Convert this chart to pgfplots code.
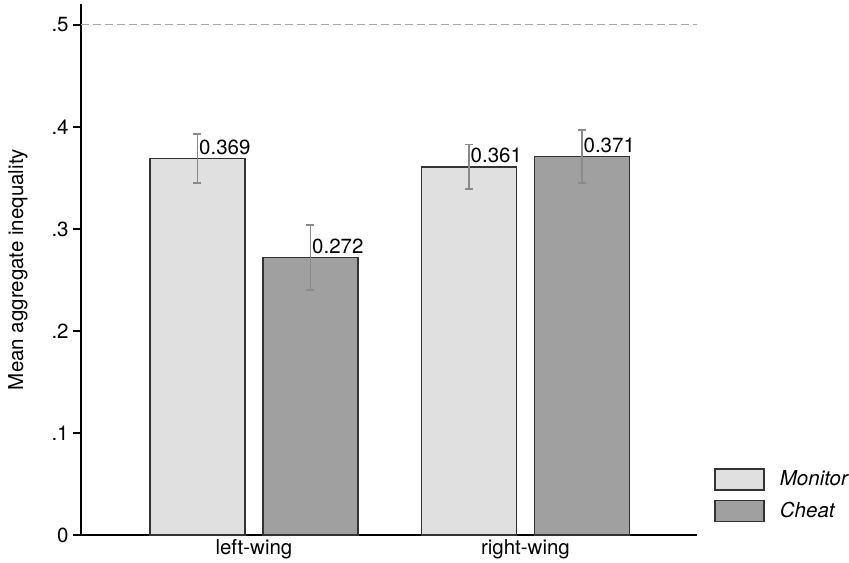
\documentclass[border=0pt]{standalone}
\usepackage{fontspec}
\setmainfont{TeX Gyre Heros}
\usepackage{pgfplots}
\pgfplotsset{compat=1.18}

\definecolor{monfill}{HTML}{E0E0E0}
\definecolor{chfill}{HTML}{A0A0A0}
\definecolor{barline}{HTML}{333333}
\definecolor{errc}{HTML}{8A8A8A}
\definecolor{refline}{HTML}{A8A8A8}

\begin{document}
\fontsize{10.25}{12}\selectfont
\begin{tikzpicture}
\begin{axis}[
scale only axis,
width=308pt, height=265.5pt,
xmin=-0.637, xmax=1.632,
ymin=0, ymax=0.5206,
axis x line*=bottom,
axis y line*=left,
axis line style={-, black, line width=0.6pt},
xtick={0,1},
xticklabels={left-wing,right-wing},
x tick style={draw=none},
ytick={0,0.1,0.2,0.3,0.4,0.5},
yticklabels={0,.1,.2,.3,.4,.5},
y tick style={black, line width=0.6pt},
tick align=outside,
major tick length=4pt,
tick label style={font=\fontsize{10.25}{12}\selectfont},
xticklabel style={inner sep=0pt, yshift=2pt},
yticklabel style={inner sep=2pt},
ylabel={Mean aggregate inequality},
ylabel style={at={(axis description cs:-0.1023,0.5)}, anchor=center, font=\fontsize{10.25}{12}\selectfont},
ybar,
bar width=0.35,
nodes near coords={\pgfmathprintnumber[fixed,fixed zerofill,precision=3,assume math mode=true]{\pgfplotspointmeta}},
every node near coord/.append style={anchor=south west, inner sep=0pt, xshift=0.5pt, yshift=1.5pt, black, font=\fontsize{10.25}{12}\selectfont},
legend image code/.code={\draw[#1] (0pt,-5.25pt) rectangle (24.5pt,5.25pt);},
legend style={draw=none, fill=none, at={(1.0276,0.1262)}, anchor=north west,
  inner sep=0pt, row sep=4.5pt, column sep=7.5pt,
  nodes={inner sep=0pt, anchor=west}, font=\itshape\fontsize{10.25}{12}\selectfont},
legend cell align=left,
clip=false,
]

% reference line at .5
\draw[refline, line width=0.5pt, dash pattern=on 4pt off 2pt] (axis cs:-0.637,0.5) -- (axis cs:1.632,0.5);

\addplot[fill=monfill, draw=barline, line width=0.75pt, bar shift=-0.208,
  error bars/.cd, y dir=both, y explicit, error mark=-,
  error bar style={errc, line width=0.75pt},
  error mark options={rotate=90, errc, line width=0.75pt, mark size=2pt}]
coordinates {
 (0,0.369) +- (0,0.024)
 (1,0.361) +- (0,0.022)
};

\addplot[fill=chfill, draw=barline, line width=0.75pt, bar shift=0.208,
  error bars/.cd, y dir=both, y explicit, error mark=-,
  error bar style={errc, line width=0.75pt},
  error mark options={rotate=90, errc, line width=0.75pt, mark size=2pt}]
coordinates {
 (0,0.272) +- (0,0.032)
 (1,0.371) +- (0,0.026)
};

\legend{Monitor,Cheat}
\coordinate (O) at (rel axis cs:0,0);
\end{axis}
\pgfresetboundingbox
\path (O) ++(-40.5pt,-13.5pt) rectangle ++(424.5pt,281pt);
\end{tikzpicture}
\end{document}
